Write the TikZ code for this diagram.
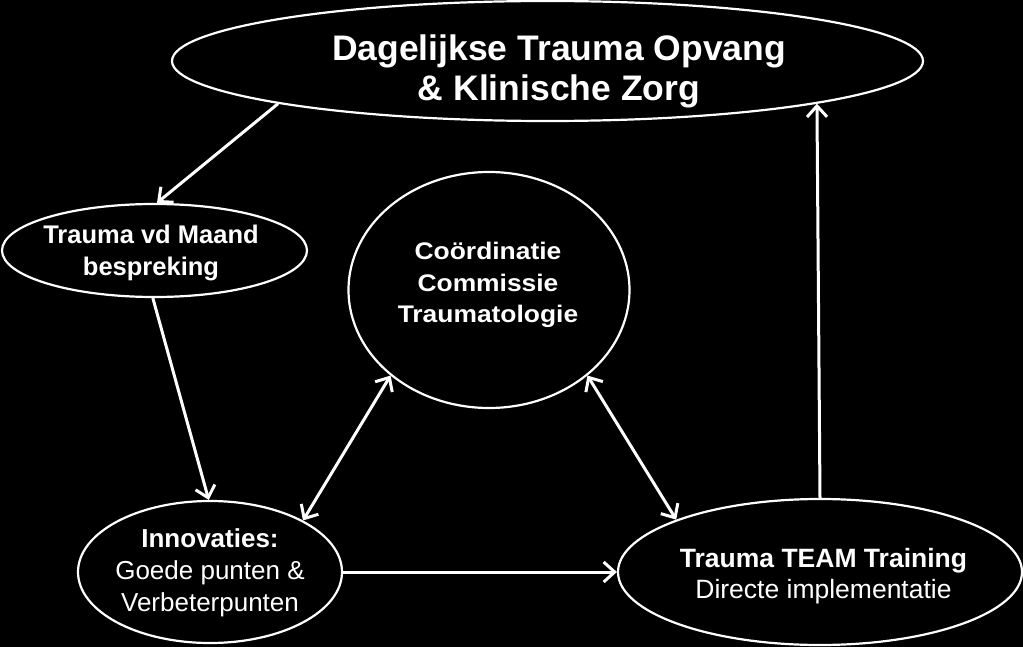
\documentclass[tikz,border=0pt]{standalone}
\usepackage{fontspec}
\setmainfont{Liberation Sans}
\newfontfamily\circfont[FakeStretch=1.1]{Liberation Sans}
\usetikzlibrary{shapes.geometric,arrows.meta}
\begin{document}
\begin{tikzpicture}[x=1pt,y=-1pt,
  ell/.style={ellipse,draw=white,line width=2.2pt,fill=black,inner sep=0pt},
  lbl/.style={text=white,align=center,inner sep=0pt},
  conn/.style={draw=white,line width=3pt,-{Straight Barb[length=11pt,width=20pt,line width=3pt]}},
  bconn/.style={draw=white,line width=3pt,{Straight Barb[length=11pt,width=20pt,line width=3pt]}-{Straight Barb[length=11pt,width=20pt,line width=3pt]}}]
\fill[black] (0,0) rectangle (1023,647);
\useasboundingbox (0,0) rectangle (1023,647);
% shapes
\node[ell,minimum width=751pt,minimum height=120pt] (top) at (547.5,61) {};
\node[ell,minimum width=305pt,minimum height=93pt] (maand) at (154.5,250.5) {};
\node[ell,minimum width=281pt,minimum height=236pt] (cct) at (489,290) {};
\node[ell,minimum width=264pt,minimum height=142pt] (innov) at (210,572) {};
\node[ell,minimum width=404pt,minimum height=146pt] (team) at (820,572) {};
% texts
\node[lbl,font=\bfseries\fontsize{35.5}{40}\selectfont] (toptxt) at (559,71.8)
  {Dagelijkse Trauma Opvang\\\& Klinische Zorg};
\node[lbl,font=\bfseries\fontsize{25.5}{32}\selectfont] (maandtxt) at (151,253.4)
  {Trauma vd Maand\\bespreking};
\node[lbl,font=\circfont\bfseries\fontsize{24}{31.5}\selectfont] (ccttxt) at (488,285.3)
  {Coördinatie\\Commissie\\Traumatologie};
\node[lbl,font=\fontsize{26}{32}\selectfont] (innovtxt) at (210,573.2)
  {\textbf{Innovaties:}\\Goede punten \&\\Verbeterpunten};
\node[lbl,font=\fontsize{26.5}{31}\selectfont] (teamtxt) at (823.5,575.7)
  {\textbf{Trauma TEAM Training}\\Directe implementatie};
% connectors
\draw[conn] (top.189.1) -- (maand.87);
\draw[conn] (maand.268) -- (innov.91);
\draw[bconn] (innov.29.2) -- (cct.221.3);
\draw[bconn] (cct.-41.6) -- (team.160);
\draw[conn] (innov.east) -- (team.west);
\draw[conn] (team.north) -- (top.-9.1);
\end{tikzpicture}
\end{document}
